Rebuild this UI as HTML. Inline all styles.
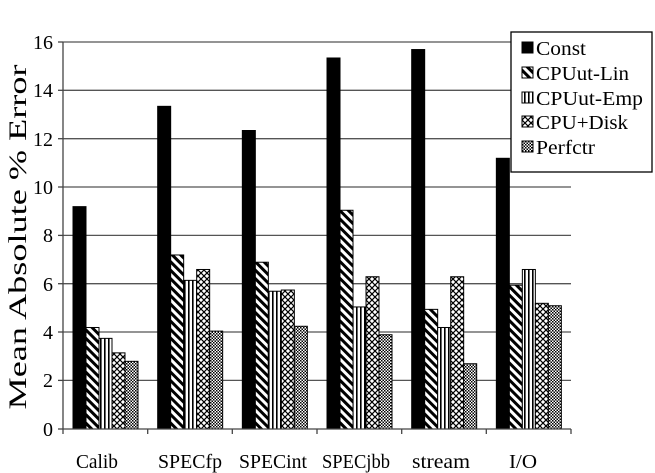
<!DOCTYPE html>
<html><head><meta charset="utf-8"><style>
html,body{margin:0;padding:0;background:#fff}
svg{display:block}
text{font-family:"Liberation Serif",serif;fill:#000}
</style></head><body>
<svg width="655" height="473" viewBox="0 0 655 473" xmlns="http://www.w3.org/2000/svg">
<defs>
<pattern id="diag" patternUnits="userSpaceOnUse" width="6" height="6" patternTransform="rotate(-45)">
<rect width="6" height="6" fill="#fff"/><rect width="3" height="6" fill="#000"/></pattern>
<pattern id="vert" patternUnits="userSpaceOnUse" width="4" height="4">
<rect width="4" height="4" fill="#fff"/><rect width="1.6" height="4" fill="#000"/></pattern>
<pattern id="cross" patternUnits="userSpaceOnUse" width="6" height="6">
<rect width="6" height="6" fill="#fff"/><path d="M0,0L6,6M6,0L0,6" stroke="#000" stroke-width="1.2"/></pattern>
<pattern id="check" patternUnits="userSpaceOnUse" width="3" height="3">
<rect width="3" height="3" fill="#fff"/><rect width="1.5" height="1.5" fill="#000"/><rect x="1.5" y="1.5" width="1.5" height="1.5" fill="#000"/></pattern>
</defs>
<g stroke="#555" stroke-width="1.3">
<line x1="63" y1="42" x2="571" y2="42"/>
<line x1="63" y1="90.3" x2="571" y2="90.3"/>
<line x1="63" y1="138.7" x2="571" y2="138.7"/>
<line x1="63" y1="187" x2="571" y2="187"/>
<line x1="63" y1="235.4" x2="571" y2="235.4"/>
<line x1="63" y1="283.7" x2="571" y2="283.7"/>
<line x1="63" y1="332" x2="571" y2="332"/>
<line x1="63" y1="380.4" x2="571" y2="380.4"/>
</g>
<g id="bars" stroke="#000" stroke-width="1"></g>
<g stroke="#444" stroke-width="1.3">
<line x1="63" y1="42" x2="63" y2="429"/>
<line x1="63" y1="429" x2="571" y2="429"/>
<line x1="58" y1="42" x2="63" y2="42"/><line x1="58" y1="90.3" x2="63" y2="90.3"/>
<line x1="58" y1="138.7" x2="63" y2="138.7"/><line x1="58" y1="187" x2="63" y2="187"/>
<line x1="58" y1="235.4" x2="63" y2="235.4"/><line x1="58" y1="283.7" x2="63" y2="283.7"/>
<line x1="58" y1="332" x2="63" y2="332"/><line x1="58" y1="380.4" x2="63" y2="380.4"/>
<line x1="58" y1="429" x2="63" y2="429"/>
<line x1="63" y1="429" x2="63" y2="434"/><line x1="147.7" y1="429" x2="147.7" y2="434"/>
<line x1="232.3" y1="429" x2="232.3" y2="434"/><line x1="317" y1="429" x2="317" y2="434"/>
<line x1="401.7" y1="429" x2="401.7" y2="434"/><line x1="486.3" y1="429" x2="486.3" y2="434"/>
<line x1="571" y1="429" x2="571" y2="434"/>
</g>
<g font-size="20" text-anchor="end">
<text x="53" y="49">16</text><text x="53" y="97">14</text><text x="53" y="146">12</text>
<text x="53" y="194">10</text><text x="53" y="242">8</text><text x="53" y="291">6</text>
<text x="53" y="339">4</text><text x="53" y="387">2</text><text x="53" y="436">0</text>
</g>
<g font-size="20" text-anchor="middle" lengthAdjust="spacingAndGlyphs">
<text x="97" y="468" textLength="42" lengthAdjust="spacingAndGlyphs">Calib</text><text x="190" y="468" textLength="64" lengthAdjust="spacingAndGlyphs">SPECfp</text>
<text x="273" y="468" textLength="68" lengthAdjust="spacingAndGlyphs">SPECint</text><text x="356" y="468" textLength="68" lengthAdjust="spacingAndGlyphs">SPECjbb</text>
<text x="441" y="468" textLength="58" lengthAdjust="spacingAndGlyphs">stream</text><text x="523" y="468" textLength="28" lengthAdjust="spacingAndGlyphs">I/O</text>
</g>
<text font-size="25" text-anchor="middle" textLength="345" lengthAdjust="spacingAndGlyphs" transform="translate(26,237) rotate(-90)">Mean Absolute % Error</text>
<rect x="511" y="32" width="141" height="140" fill="#fff" stroke="#000" stroke-width="1.3"/>
<g stroke="#000" stroke-width="1">
<rect x="522" y="42" width="11" height="11" fill="#000"/>
<rect x="522" y="67" width="11" height="11" fill="url(#diag)"/>
<rect x="522" y="92" width="11" height="11" fill="url(#vert)"/>
<rect x="522" y="116" width="11" height="11" fill="url(#cross)"/>
<rect x="522" y="141" width="11" height="11" fill="url(#check)"/>
</g>
<g font-size="20">
<text x="536" y="55" textLength="50" lengthAdjust="spacingAndGlyphs">Const</text><text x="536" y="80" textLength="93" lengthAdjust="spacingAndGlyphs">CPUut-Lin</text>
<text x="536" y="105" textLength="107" lengthAdjust="spacingAndGlyphs">CPUut-Emp</text><text x="536" y="129" textLength="92" lengthAdjust="spacingAndGlyphs">CPU+Disk</text>
<text x="536" y="154" textLength="59" lengthAdjust="spacingAndGlyphs">Perfctr</text>
</g>
<script>
var d=[[9.2,4.2,3.75,3.15,2.8],[13.35,7.2,6.15,6.6,4.05],[12.35,6.9,5.7,5.75,4.25],[15.35,9.05,5.05,6.3,3.9],[15.7,4.95,4.2,6.3,2.7],[11.2,5.95,6.6,5.2,5.1]];
var f=["#000","url(#diag)","url(#vert)","url(#cross)","url(#check)"];
var g=document.getElementById("bars"),ns="http://www.w3.org/2000/svg";
for(var i=0;i<6;i++)for(var j=0;j<5;j++){var r=document.createElementNS(ns,"rect");var x=63+i*84.67+10+j*13,h=d[i][j]*24.17;
r.setAttribute("x",x);r.setAttribute("y",429-h);r.setAttribute("width",13);r.setAttribute("height",h);r.setAttribute("fill",f[j]);g.appendChild(r);}
</script>
</svg>
</body></html>
